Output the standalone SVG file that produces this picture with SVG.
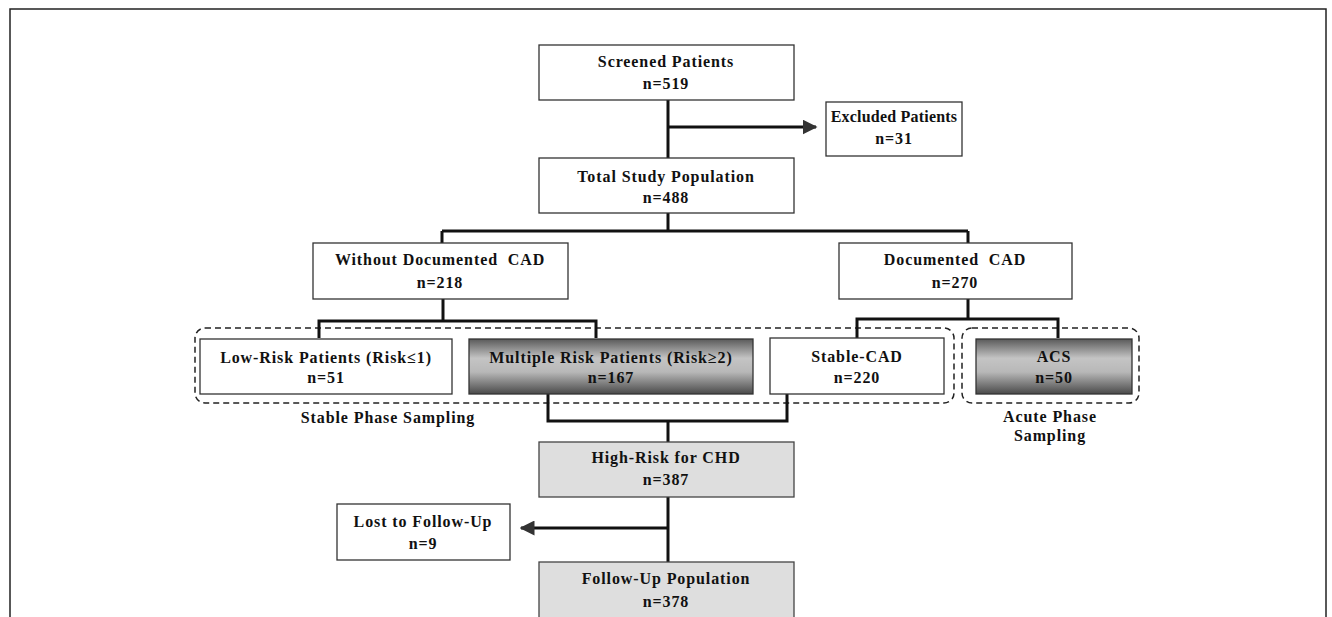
<svg xmlns="http://www.w3.org/2000/svg" width="1332" height="617" viewBox="0 0 1332 617">
<style>
.box{fill:#fff;stroke:#333;stroke-width:1.3}
.lite{fill:#dedede;stroke:#444;stroke-width:1.3}
.dark{fill:url(#g);stroke:#333;stroke-width:1.3}
.t{font-family:"Liberation Serif","Times New Roman",serif;font-weight:bold;font-size:16px;letter-spacing:0.9px;text-anchor:middle;fill:#111;white-space:pre}
.tight{letter-spacing:0.2px}
.c{stroke:#111;stroke-width:3;fill:none}
.grp{fill:none;stroke:#222;stroke-width:1.5;stroke-dasharray:6 4}
</style>
<defs>
<linearGradient id="g" x1="0" y1="0" x2="0" y2="1">
<stop offset="0" stop-color="#5a5a5a"/>
<stop offset="0.35" stop-color="#c4c4c4"/>
<stop offset="0.6" stop-color="#b8b8b8"/>
<stop offset="1" stop-color="#4a4a4a"/>
</linearGradient>
<marker id="ah" viewBox="0 0 10 10" refX="9" refY="5" markerWidth="5" markerHeight="5" orient="auto" markerUnits="strokeWidth">
<path d="M0,0 L10,5 L0,10 z" fill="#333"/>
</marker>
</defs>
<rect x="10" y="9" width="1316" height="640" fill="#fff" stroke="#222" stroke-width="1.5"/>
<g id="groups">
<rect class="grp" x="195" y="328" width="759" height="75" rx="10"/>
<rect class="grp" x="962" y="328" width="177" height="75" rx="10"/>
</g>
<g id="connectors">
<path class="c" d="M668,100 V158"/>
<path class="c" d="M668,127 H816" marker-end="url(#ah)"/>
<path class="c" d="M668,213 V231"/>
<path class="c" d="M442,231 H968"/>
<path class="c" d="M442,231 V243"/>
<path class="c" d="M968,231 V243"/>
<path class="c" d="M443,299 V321"/>
<path class="c" d="M319,338 V321 H596 V338"/>
<path class="c" d="M968,299 V319"/>
<path class="c" d="M857,338 V319 H1058 V338"/>
<path class="c" d="M548,394 V421 H787 V394"/>
<path class="c" d="M668,421 V442"/>
<path class="c" d="M668,497 V562"/>
<path class="c" d="M668,528 H521" marker-end="url(#ah)"/>
</g>
<g id="screened"><rect class="box" x="539" y="45" width="255" height="55"/><text class="t" x="666" y="67">Screened Patients</text><text class="t" x="666" y="89">n=519</text></g>
<g id="excluded"><rect class="box" x="826" y="102" width="136" height="54"/><text class="t tight" x="894" y="122">Excluded Patients</text><text class="t" x="894" y="144">n=31</text></g>
<g id="total"><rect class="box" x="539" y="158" width="255" height="55"/><text class="t" x="666" y="182">Total Study Population</text><text class="t" x="666" y="203">n=488</text></g>
<g id="without"><rect class="box" x="313" y="243" width="255" height="56"/><text class="t" x="440" y="265">Without Documented  CAD</text><text class="t" x="440" y="288">n=218</text></g>
<g id="documented"><rect class="box" x="839" y="243" width="233" height="56"/><text class="t" x="955" y="265">Documented  CAD</text><text class="t" x="955" y="288">n=270</text></g>
<g id="lowrisk"><rect class="box" x="200" y="339" width="252" height="55"/><text class="t" x="326" y="363">Low-Risk Patients (Risk≤1)</text><text class="t" x="326" y="383">n=51</text></g>
<g id="multiple"><rect class="dark" x="469" y="339" width="284" height="55"/><text class="t" x="611" y="363">Multiple Risk Patients (Risk≥2)</text><text class="t" x="611" y="383">n=167</text></g>
<g id="stablecad"><rect class="box" x="770" y="338" width="174" height="56"/><text class="t" x="857" y="362">Stable-CAD</text><text class="t" x="857" y="383">n=220</text></g>
<g id="acs"><rect class="dark" x="976" y="339" width="156" height="55"/><text class="t" x="1054" y="362">ACS</text><text class="t" x="1054" y="383">n=50</text></g>
<g id="labels">
<text class="t" x="388" y="423">Stable Phase Sampling</text>
<text class="t" x="1050" y="422">Acute Phase</text>
<text class="t" x="1050" y="441">Sampling</text>
</g>
<g id="highrisk"><rect class="lite" x="539" y="442" width="255" height="55"/><text class="t" x="666" y="463">High-Risk for CHD</text><text class="t" x="666" y="485">n=387</text></g>
<g id="lost"><rect class="box" x="337" y="504" width="173" height="56"/><text class="t" x="423" y="527">Lost to Follow-Up</text><text class="t" x="423" y="549">n=9</text></g>
<g id="followup"><rect class="lite" x="539" y="562" width="255" height="60"/><text class="t" x="666" y="584">Follow-Up Population</text><text class="t" x="666" y="607">n=378</text></g>
</svg>
